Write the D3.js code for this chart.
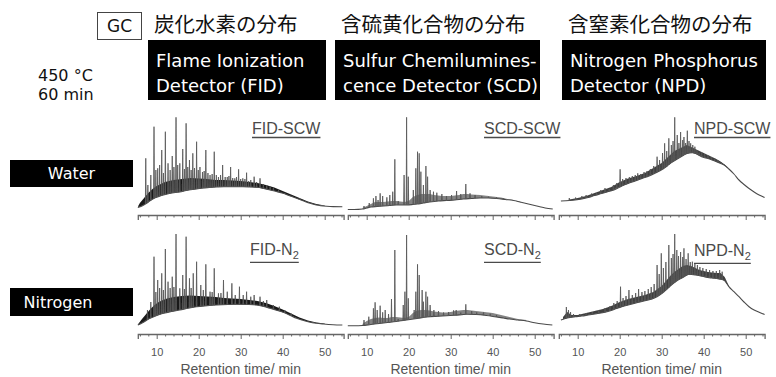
<!DOCTYPE html>
<html><head><meta charset="utf-8">
<script src="https://cdn.jsdelivr.net/npm/d3@7"></script>
<style>body{margin:0;background:#fff}svg{display:block}</style>
</head><body>
<svg id="chart" width="776" height="377"></svg>
<script>
// ---------- labels ----------
const detectorHeads = ["炭化水素の分布", "含硫黄化合物の分布", "含窒素化合物の分布"];
const detectorNames = [
  ["Flame Ionization", "Detector (FID)"],
  ["Sulfur Chemilumines-", "cence Detector (SCD)"],
  ["Nitrogen Phosphorus", "Detector (NPD)"]
];
const rowNames = ["Water", "Nitrogen"];
const traceDetectors = ["FID", "SCD", "NPD"];
const traceMedia = [["SCW", ""], ["N", "2"]];
const conditionLines = ["450 °C", "60 min"];
const methodLabel = "GC";
const majorTicks = [10, 20, 30, 40, 50];
const minorTicks = [6, 8, 12, 14, 16, 18, 22, 24, 26, 28, 32, 34, 36, 38, 42, 44, 46, 48, 52, 54];
const axisTitle = "Retention time/ min";

// ---------- chromatograms: [retention time (min), relative signal] ----------
// FID, supercritical water
const fidScwBase = [[5.5,7.5],[6.5,9],[7.5,11.5],[8.5,14.5],[9.5,17],[10.5,18.5],[11.6,20],[13,21.5],[14.5,22.5],[15.5,23],[17,24.5],[18.5,25.5],[19.5,26],[21,27],[22.5,27.5],[24.3,28],[26,28.3],[27.5,28.3],[29,28.3],[30.5,28.2],[32,28],[33.8,27.7],[35.5,26.5],[37,25],[38.5,23.5],[40.1,21.7],[41.5,19.5],[43.3,16.7],[45,14],[46.5,11.7],[48,10],[49,9.3],[50.5,8.7],[52,8.4],[54.2,8.3]];
const fidScwBand = [[5.6,9],[6,12],[7,17],[8,22],[9,26],[10,29],[11,31],[12,33],[14,35],[16,36],[18,37],[20,36.5],[22,36],[24,35],[26,35],[28,34.5],[30,34],[32,33],[34,32],[36,30],[38,27.5],[40,24],[42,20.5],[44,17],[46,13.5],[48,11],[50,9.5]];
const fidScwPeaks = [[7.4,56.7],[7.9,30],[8.6,40],[9.36,88.3],[9.8,45],[10.24,46.7],[10.7,50],[11.2,65],[11.6,42],[12.06,83.3],[12.7,51.7],[13.2,45],[13.7,59],[14.1,48],[14.6,97.7],[15,50],[15.5,51.7],[16.2,66],[16.6,46],[17,91.7],[17.4,48],[17.8,55],[18.2,45],[18.6,61.7],[19,47],[19.5,73.3],[19.9,45],[20.3,48],[20.9,43],[21.3,44],[21.7,65],[22.2,42],[22.7,40],[23.2,41],[23.7,63.3],[24.2,40],[24.7,38],[25.2,40],[25.7,50],[26.3,38],[26.8,38],[27.2,39],[27.6,48],[28.1,37],[28.6,36.7],[29,38],[29.5,45.7],[30,36],[30.5,36.7],[31,36],[31.4,42.3],[31.9,34],[32.4,35],[33.2,38.3],[33.8,33],[34.6,36.7],[35.4,31],[36.2,30],[37,28.5],[37.8,27.7],[39,25],[40.5,21.7],[42,19],[44,16.5]];

// SCD, supercritical water
const scdScwBase = [[5.5,5.5],[7,5.5],[9,6],[10,7],[11,8],[12.5,8.5],[14,9],[15.5,9.5],[17,10],[18.5,10],[19.5,10],[21,10.5],[22,11],[23.5,12],[25,13],[27,14],[29,14.5],[31,15],[33,16],[35,16.5],[37,17],[39,17],[41,16.5],[43,15.5],[45,14.5],[46.5,13],[48,11.5],[49.5,10],[51,8.5],[52.5,7],[54.3,6]];
const scdScwBand = [[9,7],[10,9],[11,11],[12,13],[14,13],[15,13.5],[16,14],[17,14],[18,13.5],[19,13],[20,14],[21,18],[22,20],[23,21],[25,21],[26,20],[27,19.5],[28,19],[30,19],[31,19.5],[32,20],[33,21],[34,21],[35,20.5],[37,20],[38,19.5],[39,19],[40,18.5],[41,18],[42,17.5],[43,16.5],[44,15.5],[45,15],[46,14],[47,12.5],[48,11.5]];
const scdScwPeaks = [[9.36,9],[10.6,12],[11.6,16.7],[12.2,19],[12.7,15],[13.2,21.7],[13.8,19],[14.8,17.7],[15.5,20],[16.2,23.3],[16.7,55.7],[17.5,14],[18.9,40],[19.5,97.7],[19.9,38.3],[21.1,25],[21.7,46.7],[22.1,63.3],[22.5,61.7],[22.9,43.3],[23.5,30],[24.1,49],[24.5,38.3],[25.1,25],[25.9,23.3],[26.7,22.3],[27.9,21],[29,19],[30.2,20],[31.4,24],[32.4,21],[33.6,31],[34.6,21.7],[35.8,20],[37.4,19],[39,18.3],[40.9,17.7],[42.5,16.7]];

// NPD, supercritical water
const npdScwBase = [[6,14],[8,14.5],[9.4,15],[11,16],[12.5,17.5],[14,19.5],[15.7,21.5],[17.3,23.5],[18.9,25.5],[20.5,29],[22,31.5],[23.7,34],[25.3,36.5],[27,39],[28.5,42],[30.1,45.5],[31.3,49],[32.5,53],[33.7,56],[34.9,59],[35.7,61],[36.5,62],[37.3,62.3],[38.1,61.5],[39,59.5],[39.7,58],[41,56.5],[42,55],[43.2,53],[44.4,51],[45.2,49],[46,46],[47.2,41],[48.4,35],[49.6,30.5],[50.8,26.5],[52,23],[53.2,20],[54.5,17.5]];
const npdScwBand = [[8,15.5],[10,17],[12,19],[14,22],[16,25],[18,28],[20,33],[22,36.5],[24,39],[26,42],[28,47],[30,52],[32,60],[33,64],[34,66],[35,68],[36,70],[37,68],[38,66],[39,64],[40,62],[41,60],[42,58],[43,56],[44,53.5],[45,50.5],[46,46.5]];
const npdScwPeaks = [[8,17],[9.5,17.5],[11,19],[12,20],[13.3,21.5],[14.5,22],[15.5,25],[16.5,27],[17.5,26],[18.5,30],[19.3,32],[20.1,45.7],[20.7,36],[21.5,37],[22.3,38],[23,39],[23.7,40],[24.3,41.7],[25,41],[25.8,43],[26.5,44],[27.3,46],[28.1,49],[28.9,58.3],[29.5,55],[30.2,62],[30.7,71.7],[31.2,64],[31.7,76.7],[32.3,70],[32.7,74],[33.1,97.7],[33.7,80],[34.1,72],[34.5,83],[35,75],[35.3,78],[35.7,72],[36.1,84.3],[36.5,74],[36.9,71.7],[37.4,70],[37.9,68.3],[38.4,65],[38.9,62.3],[39.5,63],[40.2,61],[41,60],[41.8,58],[42.6,57],[43.4,55],[44.2,53]];

// FID, nitrogen
const fidN2Base = [[5.5,9],[6.5,11],[7.5,13.5],[8.4,15.7],[10,18.5],[11.6,20.7],[13.5,22.5],[15.5,24],[17.5,25.8],[19.5,27.3],[22,28.3],[24.3,29],[27,29.5],[29,29.7],[31.5,29.5],[33.8,29],[35.5,27.5],[37,25.7],[38.5,23.8],[40.1,21.7],[41.7,18.8],[43.3,15.7],[45,13.5],[46.5,11.7],[48,10.7],[49.7,10],[52,9.3],[54.2,9]];
const fidN2Band = [[5.6,10],[6.5,15],[7.5,20],[8.5,25],[9.5,29],[10.5,32],[11.5,34],[12.5,35.5],[14,37],[16,38],[18,38.5],[20,38],[22,37.5],[24,37],[26,36],[28,35.5],[30,35],[32,34],[34,33],[36,31],[38,28],[40,24.5],[42,20.5],[44,16.5],[46,13.5],[48,11.5],[50,10.5]];
const fidN2Peaks = [[7.8,24],[8.6,32],[9.36,77.3],[9.8,42],[10.24,54],[10.7,46],[11.2,60.7],[11.6,44],[12.06,85],[12.7,52.3],[13.2,46],[13.7,57.3],[14.1,47],[14.6,100],[15.5,45.7],[16.2,59],[16.6,45],[17,97.3],[17.8,55.7],[18.2,46],[18.7,60.7],[19.5,72.3],[20.5,49],[21.1,44],[21.7,69.7],[22.7,42.3],[23.2,42],[23.7,65.7],[24.7,40.7],[25.3,41],[25.9,54],[26.8,42.3],[27.9,50.7],[28.7,39],[29.7,47.3],[30.6,39],[31.4,42.3],[32.4,37.3],[33.2,39],[34.6,37.3],[35.4,33],[36.2,34],[37.8,29],[39.2,27.3],[40.5,24],[42,20.5]];

// SCD, nitrogen
const scdN2Base = [[5.5,8.3],[7,8.3],[9,8.5],[11,9.5],[13,10.5],[15,11.5],[17,12.5],[19.5,14],[22,15.5],[24.3,17],[27,17.8],[29,18.3],[31,18.7],[33.8,19.7],[36,19.5],[38.5,18.5],[40.5,17.3],[42.5,16],[44,15],[46,14],[48,13],[50,11.3],[52,10],[54.2,9]];
const scdN2Band = [[9,10],[10,13],[11,15],[12,16],[13,16.5],[14,16],[15,16],[16,17],[17,17],[18,16.5],[19,16],[20,17],[21,21],[22,23.5],[23,24],[24,24],[25,23.5],[26,22.5],[27,22],[28,21.5],[29,21.5],[30,22],[31,23],[32,23.5],[33,24],[34,24],[35,23.5],[36,23],[37,22.5],[38,22],[39,21.5],[40,21],[41,20],[42,19],[43,18],[44,17],[45,16],[46,15],[47,14.5],[48,14]];
const scdN2Peaks = [[9.36,14],[10.5,17.3],[11.6,25.7],[12,31.7],[12.5,24],[13.2,28.3],[13.8,21.7],[14.4,24],[15.2,20],[15.9,35],[16.7,84],[17.5,15],[18.7,29],[19.1,42.3],[19.5,99],[19.9,35.7],[21.3,24],[21.7,42.3],[22.1,69.7],[22.5,59],[23.2,44],[23.5,32.3],[24.1,42.3],[24.5,37.3],[25.1,29],[26,24],[27.1,23],[28.3,21.5],[29.5,22],[30.7,23.7],[31.3,24],[32.4,21.5],[33.6,29.7],[35,23],[36.2,21.7],[37.8,21.5],[39.4,20.3],[40.9,19]];

// NPD, nitrogen
const npdN2Base = [[6,14],[7.5,16],[9.4,17.3],[11,18],[12.5,19],[14.5,20.3],[16.5,21.7],[18.5,24.3],[20.5,27.3],[22.5,29.5],[24.5,31.7],[26,33.3],[27.7,35],[29,37.5],[30.1,40.7],[31.3,45],[32.5,49.7],[33.7,53.5],[34.9,56.3],[35.7,58.3],[36.5,59.7],[38.1,59],[39.7,57.7],[41.3,56.3],[42.5,55.7],[43.6,55],[44.8,54],[45.4,51],[46,47.3],[47.2,42.3],[48.4,37.3],[49.6,32],[50.8,27.3],[52,24],[53.2,21.7],[54.5,19.5]];
const npdN2Band = [[6.5,17],[7.5,22],[8.5,19],[10,19],[12,21],[14,23],[16,25],[18,28],[20,32],[22,35],[24,37],[26,39],[28,42],[30,48],[31,53],[32,58],[33,62],[34,65],[35,68],[36,69],[37,68],[38,66],[39,64],[40,63],[41,62],[42,61.5],[43,61],[44,61],[45,57],[46,48]];
const npdN2Peaks = [[7.3,27],[7.8,24],[8.3,22],[9,20],[10.5,20],[12,21],[13.5,22],[15,24],[16.5,26],[17.7,28],[18.6,31],[19.4,33],[20.2,47.3],[20.8,36],[21.5,38],[22.2,44],[23,39],[23.8,41],[24.5,45],[25.3,42],[26,43],[26.8,45],[27.5,47],[28.2,50],[28.9,69],[29.4,60],[29.9,80.7],[30.4,66],[31,72],[31.7,89],[32.3,76],[32.7,80],[33.1,100],[33.6,84],[34,78],[34.5,82],[35,77],[35.3,85.7],[35.8,75],[36.3,80.7],[36.8,72],[37.3,72.3],[37.9,70],[38.5,69],[39.1,67],[39.8,66],[40.6,65],[41.4,64],[42.2,63],[43,63],[43.8,64],[44.4,62.3]];

const traces = [
  [{base: fidScwBase, band: fidScwBand, peaks: fidScwPeaks},
   {base: scdScwBase, band: scdScwBand, peaks: scdScwPeaks},
   {base: npdScwBase, band: npdScwBand, peaks: npdScwPeaks}],
  [{base: fidN2Base, band: fidN2Band, peaks: fidN2Peaks},
   {base: scdN2Base, band: scdN2Band, peaks: scdN2Peaks},
   {base: npdN2Base, band: npdN2Band, peaks: npdN2Peaks}]
];

// ---------- layout ----------
const panelX10 = [156.7, 366.7, 577.7];   // pixel x of 10 min in each column
const pxPerMin = 4.2;
const axisY = [215, 334];
const signalSpan = 100;
const timeExtent = [5.5, 54.5];
const bandStyle = [{fill: "#000", op: 0.9}, {fill: "#333", op: 0.6}, {fill: "#111", op: 0.8}];
const labelPos = [[[252, 134], [484, 134], [694, 134]], [[250, 254.5], [484, 254.5], [694, 255.5]]];
const headBoxes = [[148, 326], [335, 540], [562, 766]];

const svg = d3.select("#chart");
const defs = svg.append("defs");
defs.append("filter").attr("id", "soft").attr("x", "-5%").attr("y", "-5%").attr("width", "110%").attr("height", "110%")
  .append("feGaussianBlur").attr("stdDeviation", 0.4);

const sans = "'Liberation Sans', Arial, sans-serif";
const ui = "'DejaVu Sans', Verdana, sans-serif";
const cjk = "'Noto Sans CJK JP', 'Noto Sans CJK SC', sans-serif";

// ---------- header ----------
svg.append("rect").attr("x", 97.5).attr("y", 12.5).attr("width", 44).attr("height", 27)
  .attr("fill", "#fff").attr("stroke", "#444").attr("stroke-width", 1);
svg.append("text").attr("x", 119.5).attr("y", 32).attr("text-anchor", "middle")
  .attr("font-family", ui).attr("font-size", 17).attr("fill", "#111").text(methodLabel);

svg.selectAll("text.cond").data(conditionLines).join("text").attr("class", "cond")
  .attr("x", 38).attr("y", (d, i) => 81 + i * 19)
  .attr("font-family", ui).attr("font-size", 16).attr("fill", "#111").text(d => d);

detectorHeads.forEach((h, i) => {
  const [x0, x1] = headBoxes[i];
  svg.append("text").attr("x", x0 + 6).attr("y", 23).attr("dominant-baseline", "central")
    .attr("font-family", cjk).attr("font-size", 20.5).attr("fill", "#111").text(h);
  svg.append("rect").attr("x", x0).attr("y", 40).attr("width", x1 - x0).attr("height", 60).attr("fill", "#000");
  detectorNames[i].forEach((line, j) => {
    svg.append("text").attr("x", x0 + 8).attr("y", 67 + j * 25)
      .attr("font-family", ui).attr("font-size", 18).attr("fill", "#fff").text(line);
  });
});

// ---------- row labels ----------
const rowBoxes = [[160, 27], [288, 28]];
rowNames.forEach((name, r) => {
  const [y0, h] = rowBoxes[r];
  svg.append("rect").attr("x", 10).attr("y", y0).attr("width", 123).attr("height", h).attr("fill", "#000");
  svg.append("text").attr("x", r === 0 ? 71.5 : 58).attr("y", y0 + h / 2).attr("dominant-baseline", "central")
    .attr("text-anchor", "middle").attr("font-family", ui).attr("font-size", 16).attr("fill", "#fff").text(name);
});

// ---------- panels ----------
traces.forEach((row, r) => {
  row.forEach((tr, c) => {
    const x = d3.scaleLinear()
      .domain(timeExtent)
      .range(timeExtent.map(t => panelX10[c] + (t - 10) * pxPerMin));
    const y = d3.scaleLinear().domain([0, signalSpan]).range([axisY[r], axisY[r] - signalSpan]);
    const baseAt = d3.scaleLinear().domain(tr.base.map(d => d[0])).range(tr.base.map(d => d[1])).clamp(true);

    const g = svg.append("g").attr("filter", "url(#soft)");

    // dense unresolved hump
    g.append("path")
      .datum(tr.band)
      .attr("d", d3.area().x(d => x(d[0])).y0(d => y(baseAt(d[0]))).y1(d => y(d[1])).curve(d3.curveLinear))
      .attr("fill", bandStyle[c].fill).attr("fill-opacity", bandStyle[c].op);

    // baseline trace
    g.append("path")
      .datum(tr.base)
      .attr("d", d3.line().x(d => x(d[0])).y(d => y(d[1])).curve(d3.curveMonotoneX))
      .attr("fill", "none").attr("stroke", "#4a4a4a").attr("stroke-width", 1.1);

    // resolved peaks
    g.selectAll("path.pk").data(tr.peaks).join("path").attr("class", "pk")
      .attr("d", d => {
        const b = y(baseAt(d[0]));
        return `M${x(d[0]) - 0.4},${b}L${x(d[0])},${y(Math.min(d[1], signalSpan))}L${x(d[0]) + 0.4},${b}`;
      })
      .attr("fill", "#666").attr("stroke", "#555").attr("stroke-width", 0.8);

    // time axis
    const ag = svg.append("g").attr("transform", `translate(0,${axisY[r]})`);
    const major = d3.axisBottom(x).tickValues(majorTicks).tickSize(5).tickPadding(9)
      .tickFormat(r === 1 ? d3.format("d") : () => "");
    ag.call(major);
    const minor = d3.axisBottom(x).tickValues(minorTicks).tickSize(2.5).tickFormat(() => "");
    ag.append("g").call(minor).select(".domain").remove();
    ag.selectAll(".domain").attr("stroke", "#666").attr("stroke-width", 1.3);
    ag.selectAll(".tick line").attr("stroke", "#666").attr("stroke-width", 1);
    ag.selectAll(".tick text").attr("font-family", sans).attr("font-size", 11).attr("fill", "#555");

    if (r === 1) {
      svg.append("text").attr("x", x(30)).attr("y", 374).attr("text-anchor", "middle")
        .attr("font-family", sans).attr("font-size", 14).attr("fill", "#555").text(axisTitle);
    }

    // trace label with underline
    const [lx, ly] = labelPos[r][c];
    const lab = svg.append("text").attr("x", lx).attr("y", ly)
      .attr("font-family", sans).attr("font-size", 16).attr("fill", "#4a4a4a");
    lab.append("tspan").text(`${traceDetectors[c]}-${traceMedia[r][0]}`);
    if (traceMedia[r][1]) lab.append("tspan").attr("dy", 4).attr("font-size", 11).text(traceMedia[r][1]);
    const w = lab.node().getComputedTextLength();
    const uy = ly + (traceMedia[r][1] ? 7.8 : 3.5);
    svg.append("line").attr("x1", lx).attr("x2", lx + w).attr("y1", uy).attr("y2", uy)
      .attr("stroke", "#4a4a4a").attr("stroke-width", 1.3);
  });
});
</script>
</body></html>
